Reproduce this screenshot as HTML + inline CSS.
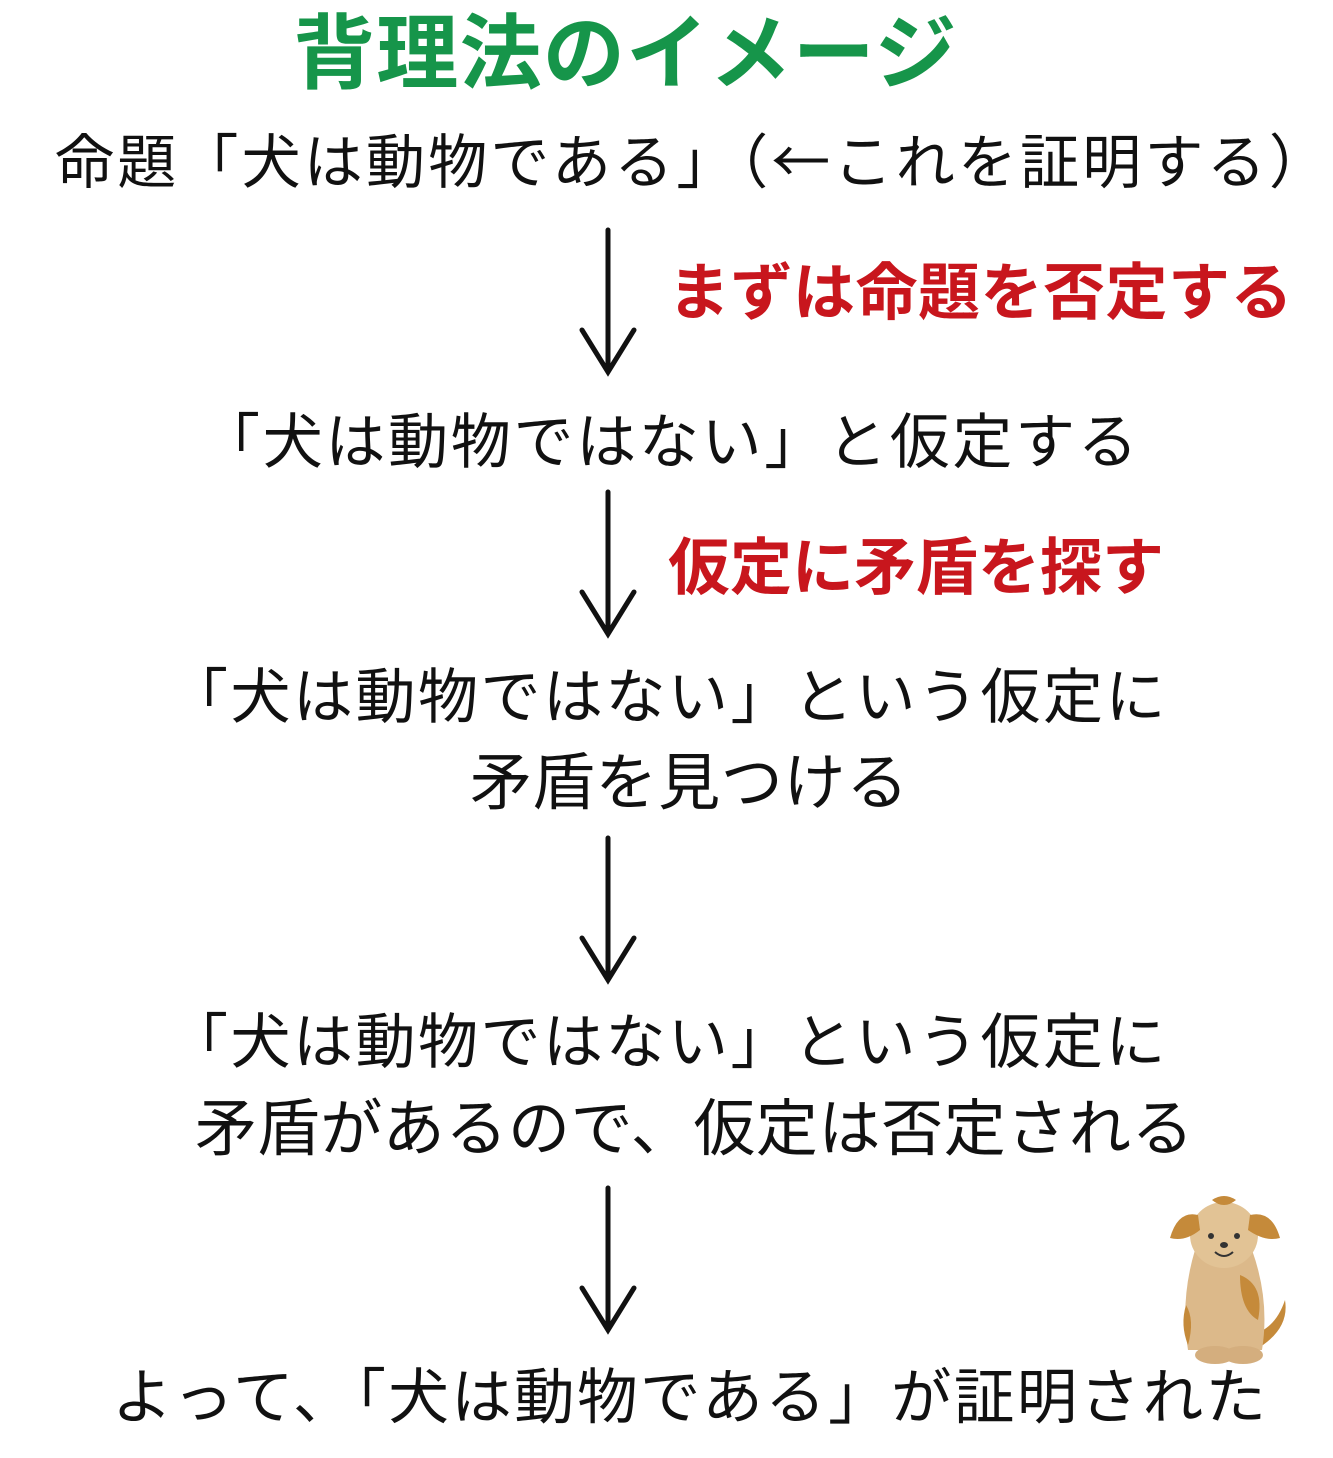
<!DOCTYPE html>
<html><head><meta charset="utf-8"><style>
html,body{margin:0;padding:0;background:#fff;}
body{width:1333px;height:1458px;position:relative;overflow:hidden;font-family:"Noto Sans CJK JP","Liberation Sans",sans-serif;}
.t{position:absolute;white-space:nowrap;line-height:1;color:#111;font-size:60px;}
.r{color:#c8161d;font-weight:bold;font-size:62px;}
.g{color:#16954a;font-weight:bold;font-size:82px;}
svg.a{position:absolute;}
</style></head><body>
<div class="t g" style="left:293px;top:6px;letter-spacing:1.3px;">背理法のイメージ</div>
<div class="t" style="left:55px;top:128px;font-size:59px;letter-spacing:3.2px;">命題「犬は動物である」（←これを証明する）</div>
<div class="t r" style="left:668px;top:256px;letter-spacing:0.5px;">まずは命題を否定する</div>
<div class="t" style="left:200px;top:408px;letter-spacing:2.7px;">「犬は動物ではない」と仮定する</div>
<div class="t r" style="left:668px;top:531px;">仮定に矛盾を探す</div>
<div class="t" style="left:168px;top:663px;letter-spacing:2.5px;">「犬は動物ではない」という仮定に</div>
<div class="t" style="left:470px;top:746px;font-size:62px;letter-spacing:0.7px;">矛盾を見つける</div>
<div class="t" style="left:168px;top:1008px;letter-spacing:2.5px;">「犬は動物ではない」という仮定に</div>
<div class="t" style="left:195px;top:1092px;font-size:62px;letter-spacing:0.6px;">矛盾があるので、仮定は否定される</div>
<div class="t" style="left:112px;top:1363px;font-size:60.5px;letter-spacing:2.4px;">よって、「犬は動物である」が証明された</div>

<svg class="a" style="left:0;top:0" width="1333" height="1458">
<g stroke="#111" stroke-width="5" fill="none" stroke-linecap="round">
<path d="M608 230V372M582 330L608 372L634 330"/>
<path d="M608 492V634M582 592L608 634L634 592"/>
<path d="M608 838V980M582 938L608 980L634 938"/>
<path d="M608 1188V1330M582 1288L608 1330L634 1288"/>
</g>
<g>
<path d="M1255 1350 Q1290 1330 1285 1300 Q1275 1330 1250 1335Z" fill="#c58a3a"/>
<path d="M1195 1250 Q1180 1300 1188 1350 L1262 1350 Q1270 1300 1252 1250Z" fill="#dcb98a"/>
<ellipse cx="1215" cy="1355" rx="20" ry="9" fill="#d4ae7e"/>
<ellipse cx="1243" cy="1355" rx="20" ry="9" fill="#d4ae7e"/>
<path d="M1240 1275 Q1265 1285 1258 1320 Q1240 1310 1240 1275Z" fill="#c58a3a"/>
<path d="M1186 1305 Q1195 1320 1188 1345 Q1180 1325 1186 1305Z" fill="#c58a3a"/>
<ellipse cx="1224" cy="1235" rx="34" ry="33" fill="#e2c395"/>
<path d="M1198 1215 Q1178 1210 1170 1238 Q1185 1242 1200 1230Z" fill="#c58a3a"/>
<path d="M1250 1215 Q1272 1210 1280 1238 Q1265 1242 1248 1230Z" fill="#c58a3a"/>
<path d="M1212 1200 Q1224 1192 1236 1200 Q1224 1210 1212 1200Z" fill="#c58a3a"/>
<circle cx="1211" cy="1236" r="3" fill="#333"/>
<circle cx="1237" cy="1236" r="3" fill="#333"/>
<ellipse cx="1224" cy="1245" rx="4" ry="3" fill="#333"/>
<path d="M1215 1252 Q1224 1260 1233 1252" stroke="#333" stroke-width="2" fill="none"/>
</g>
</svg>
</body></html>
